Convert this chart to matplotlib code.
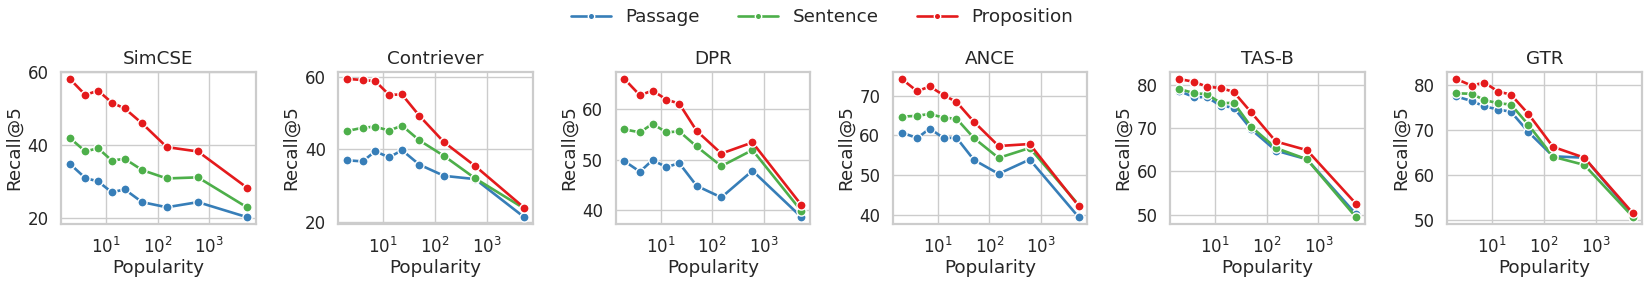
import numpy as np
import seaborn as sns
import matplotlib.pyplot as plt
from matplotlib.ticker import NullLocator

# Style

sns.set_theme(style="whitegrid", font_scale=1.1)
plt.rcParams["font.family"] = ["DejaVu Sans"]

# Data

popularity = [2, 4, 7, 13, 23, 50, 150, 600, 5300]

models = ["SimCSE", "Contriever", "DPR", "ANCE", "TAS-B", "GTR"]

passage = {
    "SimCSE": [34.8, 30.9, 30.0, 27.0, 27.8, 24.3, 22.9, 24.3, 20.2],
    "Contriever": [37.0, 36.7, 39.5, 37.8, 39.8, 35.8, 32.7, 31.8, 21.3],
    "DPR": [49.7, 47.6, 49.9, 48.5, 49.3, 44.8, 42.5, 47.8, 38.6],
    "ANCE": [60.7, 59.3, 61.7, 59.3, 59.4, 53.8, 50.3, 53.9, 39.4],
    "TAS-B": [78.5, 77.1, 77.1, 75.1, 74.7, 69.7, 64.8, 62.8, 50.2],
    "GTR": [77.5, 76.5, 75.3, 74.6, 74.1, 69.6, 64.2, 63.9, 51.1],
}

sentence = {
    "SimCSE": [41.9, 38.2, 39.1, 35.7, 36.2, 33.1, 30.8, 31.1, 22.9],
    "Contriever": [45.1, 46.0, 46.3, 45.2, 46.6, 42.5, 38.2, 32.0, 23.7],
    "DPR": [56.0, 55.4, 57.1, 55.4, 55.6, 52.6, 48.7, 51.9, 39.8],
    "ANCE": [64.7, 64.9, 65.4, 64.4, 64.2, 59.3, 54.3, 56.8, 42.5],
    "TAS-B": [79.0, 78.0, 77.8, 75.7, 75.8, 70.3, 65.4, 62.8, 49.5],
    "GTR": [78.2, 78.1, 76.7, 76.0, 75.7, 71.2, 64.1, 62.3, 50.7],
}

proposition = {
    "SimCSE": [58.1, 53.7, 54.9, 51.6, 50.0, 45.9, 39.4, 38.2, 28.3],
    "Contriever": [59.5, 59.2, 58.9, 55.1, 55.2, 49.3, 42.0, 35.4, 23.9],
    "DPR": [66.0, 62.75, 63.7, 61.9, 61.1, 55.7, 51.2, 53.4, 41.0],
    "ANCE": [74.2, 71.1, 72.3, 70.1, 68.4, 63.4, 57.3, 57.8, 42.2],
    "TAS-B": [81.3, 80.6, 79.5, 79.2, 78.3, 73.6, 66.9, 64.9, 52.6],
    "GTR": [81.4, 79.9, 80.6, 78.6, 77.9, 73.6, 66.3, 63.9, 51.5],
}

yticks = {
    "SimCSE": [20, 40, 60],
    "Contriever": [20, 40, 60],
    "DPR": [40, 50, 60],
    "ANCE": [40, 50, 60, 70],
    "TAS-B": [50, 60, 70, 80],
    "GTR": [50, 60, 70, 80],
}

series = [
    ("Passage", passage, "#377eb8"),
    ("Sentence", sentence, "#4daf4a"),
    ("Proposition", proposition, "#e41a1c"),
]

# Figure

fig, axes = plt.subplots(
    1, 6,
    figsize=(16.44, 2.81),
    dpi=100
)

fig.subplots_adjust(
    left=61 / 1644,
    right=1642 / 1644,
    top=1 - 72 / 281,
    bottom=1 - 224 / 281,
    wspace=0.424
)

for ax, model in zip(axes, models):

    for name, values, color in series:

        ax.plot(
            popularity,
            values[model],
            color=color,
            linewidth=1.9,
            marker="o",
            markersize=6.6,
            markeredgecolor="white",
            markeredgewidth=1.0,
            label=name
        )

    ax.set_xscale("log")
    ax.set_xticks([10, 100, 1000])
    ax.xaxis.set_minor_locator(NullLocator())

    ax.set_yticks(yticks[model])

    ax.set_title(model)
    ax.set_xlabel("Popularity", labelpad=2)
    ax.set_ylabel("Recall@5", labelpad=3)
    ax.tick_params(labelsize=12, pad=3)

    for spine in ax.spines.values():
        spine.set_linewidth(1.6)

# Shared legend

handles, labels = axes[0].get_legend_handles_labels()

fig.legend(
    handles,
    labels,
    loc="center",
    bbox_to_anchor=(0.5, 1 - 17 / 281),
    ncol=3,
    frameon=False,
    fontsize=13.2,
    handlelength=2.2,
    handletextpad=0.77,
    columnspacing=2.1,
    markerscale=0.7
)

fig.savefig("out.png", dpi=100)
